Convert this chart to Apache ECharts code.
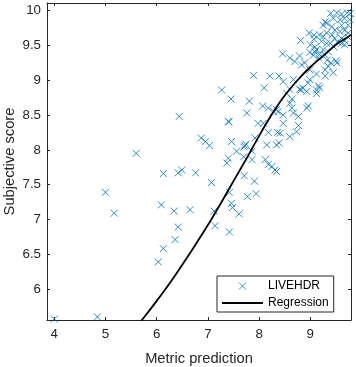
<!DOCTYPE html>
<html><head><meta charset="utf-8">
<script src="https://cdn.jsdelivr.net/npm/echarts@6/dist/echarts.min.js"></script>
<style>html,body{margin:0;padding:0;background:#fff}#c{width:356px;height:367px}</style>
</head><body><div id="c"></div>
<script>
// LIVEHDR scatter: metric prediction (x) vs subjective score (y)
var predX = [4.00,4.84,5.00,5.17,5.60,6.03,6.13,6.09,6.13,6.34,6.36,6.42,6.42,6.49,6.44,6.65,6.76,6.87,6.95,7.03,7.07,7.12,7.14,7.27,7.40,7.41,7.46,7.45,7.42,7.42,7.46,7.48,7.56,7.40,7.37,7.61,7.70,7.71,7.72,7.74,7.70,7.76,7.77,7.81,7.86,7.86,7.89,7.91,7.94,7.98,7.92,8.08,8.07,8.10,8.12,8.15,8.18,8.18,8.18,8.21,8.25,8.28,8.36,8.31,8.34,8.34,8.39,8.39,8.41,8.47,8.47,8.47,8.46,8.34,8.37,8.54,8.60,8.60,8.60,8.60,8.64,8.64,8.67,8.67,8.70,8.73,8.77,8.77,8.79,8.82,8.85,8.79,8.83,8.89,8.81,8.93,8.93,8.96,8.96,8.98,8.99,8.99,9.00,8.99,9.06,9.07,9.09,9.09,9.12,9.12,9.12,9.12,9.16,9.18,9.16,9.18,9.18,9.07,9.25,9.25,9.22,9.25,9.29,9.29,9.29,9.29,9.32,9.32,9.32,9.35,9.33,9.35,9.39,9.40,9.40,9.42,9.42,9.45,9.46,9.45,9.48,9.48,9.52,9.52,9.50,9.53,9.58,9.58,9.61,9.61,9.61,9.61,9.67,9.67,9.67,9.67,9.72,9.74,9.74,9.74,9.77,9.78];
var scoreY = [5.57,5.60,7.39,7.09,7.95,6.39,6.58,7.21,7.66,7.12,6.71,6.89,7.67,7.71,8.48,7.14,7.67,8.17,8.12,8.06,7.53,7.12,6.91,8.86,8.41,8.40,8.12,8.73,7.39,6.82,7.23,7.17,7.98,7.88,7.81,7.08,7.90,7.63,8.06,8.08,8.04,8.53,7.33,8.70,7.98,7.86,9.07,7.55,7.37,8.38,8.17,8.38,8.63,8.89,7.86,8.07,8.25,7.79,8.60,9.06,7.76,8.55,8.25,7.71,7.69,8.58,9.06,8.10,8.24,8.50,8.38,8.98,9.38,8.07,8.55,8.81,9.32,8.87,8.67,8.19,8.73,8.60,8.53,9.01,9.27,8.26,8.35,8.48,8.87,8.86,8.89,9.35,9.22,9.25,9.57,8.84,8.60,8.63,8.96,9.68,9.15,9.01,9.51,9.40,9.36,9.59,9.48,9.41,9.44,9.09,8.86,8.81,8.92,8.89,9.32,9.37,9.65,9.65,9.79,9.63,9.56,9.44,9.84,9.15,9.06,9.36,9.68,9.53,9.82,9.41,9.29,9.20,9.53,9.96,9.25,9.65,9.77,9.11,9.48,9.89,9.72,9.60,9.97,9.25,9.28,9.55,9.70,9.87,9.95,9.79,9.60,9.53,9.89,9.72,9.57,9.51,9.97,9.79,9.68,9.62,9.87,9.96];
// Regression curve
var curveX = [5.50,5.75,6.00,6.25,6.50,6.75,7.00,7.25,7.50,7.75,8.00,8.25,8.50,8.75,9.00,9.25,9.50,9.75,9.80];
var curveY = [5.36,5.59,5.83,6.08,6.35,6.63,6.92,7.23,7.55,7.87,8.20,8.51,8.78,9.00,9.19,9.35,9.51,9.63,9.65];
var xTicks = [4,5,6,7,8,9];
var yTicks = [6,6.5,7,7.5,8,8.5,9,9.5,10];
var seriesNames = ['LIVEHDR','Regression'];
var xTitle = 'Metric prediction';
var yTitle = 'Subjective score';

var AX = '#262626';
var FONT = 'Liberation Sans, Arial, Helvetica, sans-serif';
var scatterData = predX.map(function(v,i){return [v, scoreY[i]];});
var curveData = curveX.map(function(v,i){return [v, curveY[i]];});
var XMIN = 3.857, XMAX = 9.795, YMIN = 5.555, YMAX = 10.11;
function xAxisCfg(pos, show){
  return {type:'value', position:pos, min:XMIN, max:XMAX,
    name: show ? xTitle : '', nameLocation:'middle', nameGap:31,
    nameTextStyle:{color:AX, fontSize:14.7, fontFamily:FONT},
    axisLine:{show:true, onZero:false, lineStyle:{color:AX, width:1}},
    axisTick:{show:true, inside:true, length:3, customValues:xTicks, lineStyle:{color:AX}},
    axisLabel:{show:show, customValues:xTicks, margin:8, color:AX, fontSize:13.3, fontFamily:FONT},
    splitLine:{show:false}};
}
function yAxisCfg(pos, show){
  return {type:'value', position:pos, min:YMIN, max:YMAX,
    name: show ? yTitle : '', nameLocation:'middle', nameGap:30, nameMoveOverlap:false,
    nameTextStyle:{color:AX, fontSize:14.7, fontFamily:FONT},
    axisLine:{show:true, onZero:false, lineStyle:{color:AX, width:1}},
    axisTick:{show:true, inside:true, length:3, customValues:yTicks, lineStyle:{color:AX}},
    axisLabel:{show:show, customValues:yTicks, margin:6, color:AX, fontSize:13.3, fontFamily:FONT},
    splitLine:{show:false}};
}
var chart = echarts.init(document.getElementById('c'), null, {renderer:'canvas'});
chart.setOption({
  animation:false,
  backgroundColor:'#fff',
  grid:{left:47, right:5, top:3, bottom:47, containLabel:false, outerBoundsMode:'none'},
  xAxis:[xAxisCfg('bottom', true), xAxisCfg('top', false)],
  yAxis:[yAxisCfg('left', true), yAxisCfg('right', false)],
  legend:{
    orient:'vertical', left:217, top:276,
    padding:[4,5,3,4], itemGap:5, itemWidth:41, itemHeight:7,
    backgroundColor:'#fff', borderColor:AX, borderWidth:1, borderRadius:0,
    textStyle:{color:'#000', fontSize:12, fontFamily:FONT},
    itemStyle:{borderWidth:1},
    selectedMode:false,
    data:[{name:seriesNames[0], icon:'path://M0,0L1,1M1,0L0,1'},
          {name:seriesNames[1], itemStyle:{opacity:0}}]
  },
  series:[
    {name:seriesNames[0], type:'scatter', data:scatterData,
      symbol:'path://M0,0L1,1M1,0L0,1', symbolSize:7,
      itemStyle:{color:'transparent', borderColor:'#0072BD', borderWidth:1}, z:2},
    {name:seriesNames[1], type:'line', data:curveData, smooth:0.3, showSymbol:false, symbol:'none', symbolSize:0,
      lineStyle:{color:'#000', width:1.8}, itemStyle:{color:'#000'}, clip:true, z:3}
  ]
});
</script></body></html>
